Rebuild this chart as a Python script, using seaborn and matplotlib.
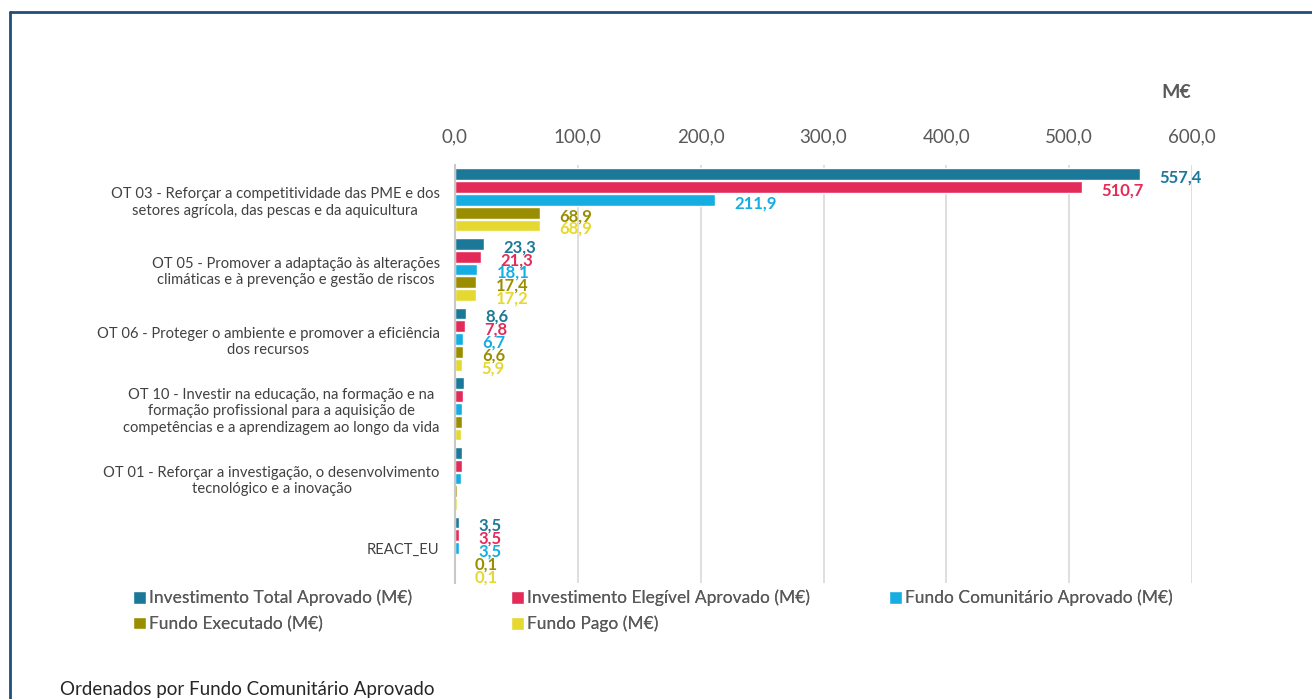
import pandas as pd
import matplotlib
matplotlib.use("Agg")
import matplotlib.pyplot as plt
from matplotlib.ticker import FuncFormatter
from matplotlib.lines import Line2D
import seaborn as sns

# Data (M€)
categories = [
    "OT 03 - Reforçar a competitividade das PME e dos\nsetores agrícola, das pescas e da aquicultura",
    "OT 05 - Promover a adaptação às alterações\nclimáticas e à prevenção e gestão de riscos",
    "OT 06 - Proteger o ambiente e promover a eficiência\ndos recursos",
    "OT 10 - Investir na educação, na formação e na\nformação profissional para a aquisição de\ncompetências e a aprendizagem ao longo da vida",
    "OT 01 - Reforçar a investigação, o desenvolvimento\ntecnológico e a inovação",
    "REACT_EU",
]
series = [
    "Investimento Total Aprovado (M€)",
    "Investimento Elegível Aprovado (M€)",
    "Fundo Comunitário Aprovado (M€)",
    "Fundo Executado (M€)",
    "Fundo Pago (M€)",
]
inv_total = [557.4, 23.3, 8.6, 7.5, 5.8, 3.5]
inv_elegivel = [510.7, 21.3, 7.8, 6.8, 5.6, 3.5]
fundo_aprovado = [211.9, 18.1, 6.7, 5.9, 4.9, 3.5]
fundo_executado = [68.9, 17.4, 6.6, 5.7, 1.8, 0.1]
fundo_pago = [68.9, 17.2, 5.9, 5.1, 1.7, 0.1]
show_label = [True, True, True, False, False, True]
x_ticks = [0, 100, 200, 300, 400, 500, 600]

colors = ["#1B7898", "#E32B5A", "#15ADE2", "#9A8E00", "#E5D830"]

values = [inv_total, inv_elegivel, fundo_aprovado, fundo_executado, fundo_pago]
rows = []
for s, vals in zip(series, values):
    for c, v in zip(categories, vals):
        rows.append({"categoria": c, "serie": s, "valor": v})
df = pd.DataFrame(rows)

sns.set_theme(style="white")
plt.rcParams["font.family"] = ["Lato", "DejaVu Sans"]

fig = plt.figure(figsize=(13.12, 6.99), dpi=100)
W, H = 1312, 699
ax = fig.add_axes([455 / W, 1 - 583 / H, 737 / W, (583 - 165) / H])

sns.barplot(data=df, y="categoria", x="valor", hue="serie", order=categories,
            hue_order=series, palette=colors, orient="h", width=0.92, gap=0.08,
            saturation=1, ax=ax)

handles, labels = ax.get_legend_handles_labels()
ax.get_legend().remove()

# value labels (they overlap in the original too)
fmt = lambda v: f"{v:.1f}".replace(".", ",")
for cont, vals, col in zip(ax.containers, values, colors):
    labs = [fmt(v) if ok else "" for v, ok in zip(vals, show_label)]
    anns = ax.bar_label(cont, labels=labs, padding=14, color=col, fontsize=12,
                        fontweight="bold")
    for a in anns:
        a.xyann = (14, -2.5)

ax.set_xlim(0, 600)
ax.set_xticks(x_ticks)
ax.xaxis.set_major_formatter(FuncFormatter(lambda v, p: f"{v:.1f}".replace(".", ",")))
ax.xaxis.tick_top()
ax.tick_params(axis="x", length=0, pad=14, labelsize=13.5, labelcolor="#595959")
ax.tick_params(axis="y", length=0, pad=11, labelsize=10.6, labelcolor="#404040")
for t in ax.get_yticklabels():
    t.set_multialignment("center")
ax.set_xlabel("")
ax.set_ylabel("")
ax.grid(axis="x", color="#D9D9D9", linewidth=1.2)
ax.grid(axis="y", visible=False)
for side in ["top", "right", "bottom"]:
    ax.spines[side].set_visible(False)
ax.spines["left"].set_color("#C8C8C8")
ax.spines["left"].set_linewidth(1.5)

fig.text(1176 / W, 1 - 93 / H, "M€", fontsize=14, fontweight="bold",
         color="#595959", ha="center", va="center")

# legend entries placed like the reference
legend_pos = [(133, 598), (511, 598), (889, 598), (133, 624), (511, 624)]
for h, l, (px, py) in zip(handles, labels, legend_pos):
    leg = fig.legend([h], [l], loc="center left", bbox_to_anchor=(px / W, 1 - py / H),
                     frameon=False, fontsize=12.5, handlelength=0.75, handleheight=0.75,
                     handletextpad=0.15, borderpad=0, borderaxespad=0,
                     labelcolor="#595959")
    fig.add_artist(leg)

fig.text(60 / W, 1 - 690 / H, "Ordenados por Fundo Comunitário Aprovado",
         fontsize=13.5, color="#262626", ha="left", va="center")

# outer frame (top and left edges visible)
frame = "#1F4E79"
fig.add_artist(Line2D([10 / W, 1.0], [1 - 12 / H, 1 - 12 / H], color=frame, lw=2,
                      transform=fig.transFigure))
fig.add_artist(Line2D([10 / W, 10 / W], [0, 1 - 12 / H], color=frame, lw=2,
                      transform=fig.transFigure))

fig.savefig("out.png", dpi=100)
